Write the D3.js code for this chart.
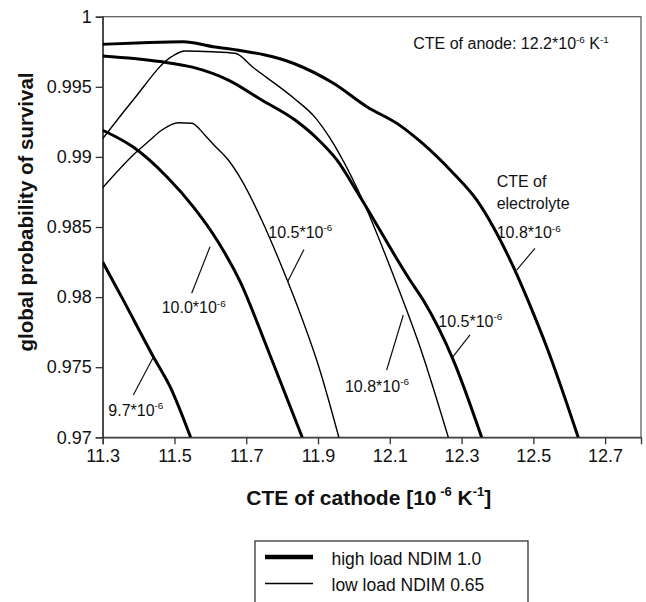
<!DOCTYPE html>
<html>
<head>
<meta charset="utf-8">
<script src="https://cdn.jsdelivr.net/npm/d3@7"></script>
<style>
  body { margin: 0; background: #fff; }
  svg { display: block; font-family: "Liberation Sans", Arial, Helvetica, sans-serif; }
</style>
</head>
<body>
<svg id="chart" width="646" height="602"></svg>
<script>
// Axis ticks
const xTicks = [11.3, 11.5, 11.7, 11.9, 12.1, 12.3, 12.5, 12.7];
const yTicks = [0.97, 0.975, 0.98, 0.985, 0.99, 0.995, 1];
const yTickLabels = ["0.97", "0.975", "0.98", "0.985", "0.99", "0.995", "1"];

// Survival probability vs. cathode CTE, one curve per electrolyte CTE.
// High load (NDIM 1.0)
const highLoad97 = [[11.3, 0.9825], [11.357, 0.9798], [11.441, 0.97575], [11.488, 0.9736], [11.545, 0.9700]];
const highLoad100 = [[11.3, 0.9919], [11.385, 0.9907], [11.478, 0.9886], [11.552, 0.98645], [11.62, 0.9840],
  [11.683, 0.9811], [11.757, 0.97646], [11.856, 0.9700]];
const highLoad105 = [[11.3, 0.9972], [11.46, 0.9968], [11.55, 0.9964], [11.65, 0.99548], [11.743, 0.99406],
  [11.836, 0.99263], [11.896, 0.99135], [11.952, 0.9898], [12.017, 0.98716], [12.156, 0.98122],
  [12.193, 0.97979], [12.277, 0.97551], [12.356, 0.9700]];
const highLoad108 = [[11.3, 0.99803], [11.413, 0.99815], [11.525, 0.99822], [11.608, 0.99786], [11.663, 0.99767],
  [11.831, 0.99668], [11.943, 0.99525], [12.036, 0.99358], [12.128, 0.99225], [12.185, 0.9911],
  [12.277, 0.98883], [12.342, 0.98693], [12.388, 0.98502], [12.444, 0.98217], [12.5, 0.97884],
  [12.537, 0.97646], [12.625, 0.9700]];
// Low load (NDIM 0.65)
const lowLoad105 = [[11.3, 0.9878], [11.39, 0.99026], [11.432, 0.9912], [11.464, 0.9919], [11.511, 0.99244],
  [11.548, 0.9924], [11.585, 0.99155], [11.608, 0.9909], [11.65, 0.98978], [11.687, 0.98835],
  [11.743, 0.9855], [11.799, 0.98217], [11.836, 0.97979], [11.905, 0.9748], [11.958, 0.9700]];
const lowLoad108 = [[11.3, 0.9913], [11.385, 0.99406], [11.492, 0.99715], [11.529, 0.99755], [11.604, 0.9975],
  [11.669, 0.99739], [11.72, 0.99636], [11.833, 0.99418], [11.894, 0.99275], [11.933, 0.99135],
  [11.961, 0.99015], [12.022, 0.98705], [12.115, 0.98122], [12.184, 0.97646], [12.263, 0.9700]];

const legendLabels = ["high load NDIM 1.0", "low load NDIM 0.65"];

const series = [
  { data: highLoad97, load: "high" },
  { data: highLoad100, load: "high" },
  { data: highLoad105, load: "high" },
  { data: highLoad108, load: "high" },
  { data: lowLoad105, load: "low" },
  { data: lowLoad108, load: "low" }
];

const strokeWidth = { high: 3, low: 1.4 };

const svg = d3.select("#chart");
const margin = { left: 102.7, top: 16.7, right: 641, bottom: 437.3 };

const x = d3.scaleLinear().domain([11.3, 12.8]).range([margin.left, margin.right]);
const y = d3.scaleLinear().domain([0.97, 1]).range([margin.bottom, margin.top]);

// plot frame
svg.append("rect")
  .attr("x", margin.left).attr("y", margin.top)
  .attr("width", margin.right - margin.left).attr("height", margin.bottom - margin.top)
  .attr("fill", "none").attr("stroke", "#555").attr("stroke-width", 1.2);

svg.append("clipPath").attr("id", "plotClip")
  .append("rect")
  .attr("x", margin.left).attr("y", margin.top)
  .attr("width", margin.right - margin.left).attr("height", margin.bottom - margin.top);

// axes
const xAxis = d3.axisBottom(x).tickValues(xTicks).tickSize(7).tickPadding(5).tickFormat(d3.format(".1f"));
const yAxis = d3.axisLeft(y).tickValues(yTicks).tickSize(7).tickPadding(4)
  .tickFormat((d, i) => yTickLabels[i]);

const gx = svg.append("g").attr("transform", `translate(0,${margin.bottom})`).call(xAxis);
const gy = svg.append("g").attr("transform", `translate(${margin.left},0)`).call(yAxis);
[gx, gy].forEach(g => {
  g.select(".domain").attr("stroke", "#333").attr("stroke-width", 1.3);
  g.selectAll(".tick line").attr("stroke", "#333").attr("stroke-width", 1.3);
  g.selectAll(".tick text").attr("fill", "#111").style("font-size", "18px")
    .style("font-family", "\"Liberation Sans\", Arial, sans-serif");
});

// curves
const line = d3.line().x(d => x(d[0])).y(d => y(d[1])).curve(d3.curveMonotoneX);
svg.append("g").attr("clip-path", "url(#plotClip)")
  .selectAll("path").data(series).join("path")
  .attr("d", d => line(d.data))
  .attr("fill", "none")
  .attr("stroke", "#000")
  .attr("stroke-width", d => strokeWidth[d.load])
  .attr("stroke-linejoin", "round");

// text with superscripts: parts are [string, isSuperscript]
function richText(g, px, py, parts, size, weight) {
  const t = g.append("text").attr("x", px).attr("y", py)
    .style("font-size", size + "px").style("font-weight", weight || "normal").attr("fill", "#111");
  let raised = false;
  parts.forEach(([s, sup]) => {
    const ts = t.append("tspan").text(s);
    if (sup && !raised) { ts.attr("dy", -size * 0.42).style("font-size", (size * 0.62) + "px"); raised = true; }
    else if (!sup && raised) { ts.attr("dy", size * 0.42); raised = false; }
    else if (sup) ts.style("font-size", (size * 0.62) + "px");
  });
  return t;
}

const ann = svg.append("g");
const labelSize = 16;

// curve labels: text anchor in data units, leader from curve point to label
const curveLabels = [
  { text: "9.7*10", at: [11.3156, 0.97152], lead: [[11.441, 0.97571], [11.3853, 0.97302]] },
  { text: "10.0*10", at: [11.4644, 0.97884], lead: [[11.599, 0.98359], [11.548, 0.98027]] },
  { text: "10.5*10", at: [11.7614, 0.98422], lead: [[11.8609, 0.9834], [11.8149, 0.98108]] },
  { text: "10.8*10", at: [11.9751, 0.97325], lead: [[12.1376, 0.97872], [12.0913, 0.9748]] },
  { text: "10.5*10", at: [12.2351, 0.97789], lead: [[12.3234, 0.9773], [12.2724, 0.97563]] },
  { text: "10.8*10", at: [12.3978, 0.98419], lead: [[12.5045, 0.98348], [12.4535, 0.98193]] }
];

curveLabels.forEach(c => {
  richText(ann, x(c.at[0]), y(c.at[1]), [[c.text, false], ["-6", true]], labelSize);
  ann.append("line")
    .attr("x1", x(c.lead[0][0])).attr("y1", y(c.lead[0][1]))
    .attr("x2", x(c.lead[1][0])).attr("y2", y(c.lead[1][1]))
    .attr("stroke", "#111").attr("stroke-width", 1.2);
});

richText(ann, x(12.3978), y(0.98787), [["CTE of", false]], labelSize);
richText(ann, x(12.3978), y(0.98626), [["electrolyte", false]], labelSize);
richText(ann, x(12.1654), y(0.99767),
  [["CTE of anode: 12.2*10", false], ["-6", true], [" K", false], ["-1", true]], labelSize);

// axis titles
richText(svg, (margin.left + margin.right) / 2 - 3, 505,
  [["CTE of cathode [10", false], [" -6", true], [" K", false], ["-1", true], ["]", false]], 21, "bold")
  .attr("text-anchor", "middle");

svg.append("text")
  .attr("transform", `translate(33,${(margin.top + margin.bottom) / 2 - 15}) rotate(-90)`)
  .attr("text-anchor", "middle")
  .style("font-size", "20.5px").style("font-weight", "bold").attr("fill", "#111")
  .text("global probability of survival");

// legend
const lg = svg.append("g");
lg.append("rect").attr("x", 255).attr("y", 541).attr("width", 273).attr("height", 90)
  .attr("fill", "#fff").attr("stroke", "#333").attr("stroke-width", 1.3);
const legendRows = [
  { label: legendLabels[0], load: "high" },
  { label: legendLabels[1], load: "low" }
];
legendRows.forEach((r, i) => {
  const cy = 557 + i * 26.5;
  lg.append("line").attr("x1", 265).attr("x2", 313).attr("y1", cy).attr("y2", cy)
    .attr("stroke", "#000").attr("stroke-width", r.load === "high" ? 4.5 : 1.5);
  lg.append("text").attr("x", 331.5).attr("y", cy + 7.5)
    .style("font-size", "17.5px").attr("fill", "#111").text(r.label);
});
</script>
</body>
</html>
